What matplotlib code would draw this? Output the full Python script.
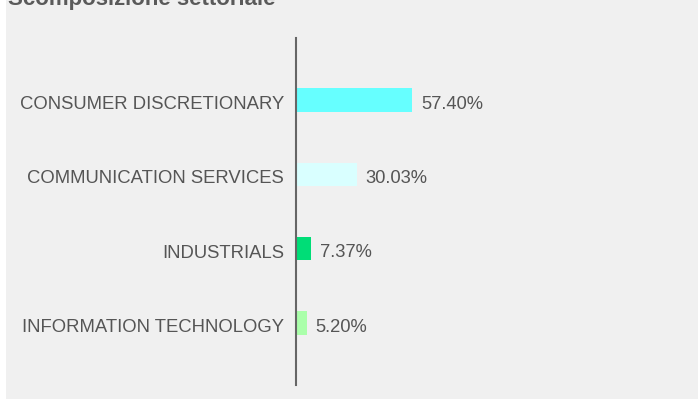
import matplotlib.pyplot as plt
import matplotlib.transforms as mtransforms
from matplotlib.patches import Rectangle

plt.rcParams['font.family'] = ['Liberation Sans', 'DejaVu Sans']

# Sector weights (%)
sectors = ['CONSUMER DISCRETIONARY', 'COMMUNICATION SERVICES',
           'INDUSTRIALS', 'INFORMATION TECHNOLOGY']
weights = [57.40, 30.03, 7.37, 5.20]
colors = ['#66ffff', '#d9ffff', '#00dd77', '#aaffaa']

W, H = 698, 399
fig = plt.figure(figsize=(W / 100, H / 100), dpi=100, facecolor='white')

# light grey panel behind everything
fig.patches.append(Rectangle((6 / W, 0), 1 - 6 / W, 1, transform=fig.transFigure,
                             facecolor='#f0f0f0', edgecolor='none', zorder=-5))

fig.text(8 / W, 1 - 5 / H, 'Scomposizione settoriale', fontsize=16,
         fontweight='bold', color='#5a5a5a', ha='left', va='baseline')

ax = fig.add_axes([296 / W, 14 / H, 1 - 296 / W, 347 / H])
ax.set_facecolor('none')

ypos = list(range(len(sectors)))
ax.barh(ypos, weights, height=0.316, color=colors, zorder=2)

for y, v in zip(ypos, weights):
    ax.text(v + 4.5, y + 0.03, f'{v:.2f}%', va='center_baseline', ha='left',
            fontsize=13.2, color='#555555')

ax.set_xlim(0, 199)
ax.set_ylim(3.834, -0.834)
ax.set_yticks(ypos)
ax.set_yticklabels(sectors, fontsize=13.3, color='#555555',
                   va='center_baseline')
ax.tick_params(axis='y', length=0, pad=8.5)
ax.set_xticks([])

# nudge category labels down a little
shift = mtransforms.ScaledTranslation(0, -2.5 / 100, fig.dpi_scale_trans)
for lbl in ax.get_yticklabels():
    lbl.set_transform(lbl.get_transform() + shift)

for side in ['top', 'right', 'bottom']:
    ax.spines[side].set_visible(False)
ax.spines['left'].set_color('#666666')
ax.spines['left'].set_linewidth(1.5)

fig.savefig('out.png', dpi=100, facecolor='white')
